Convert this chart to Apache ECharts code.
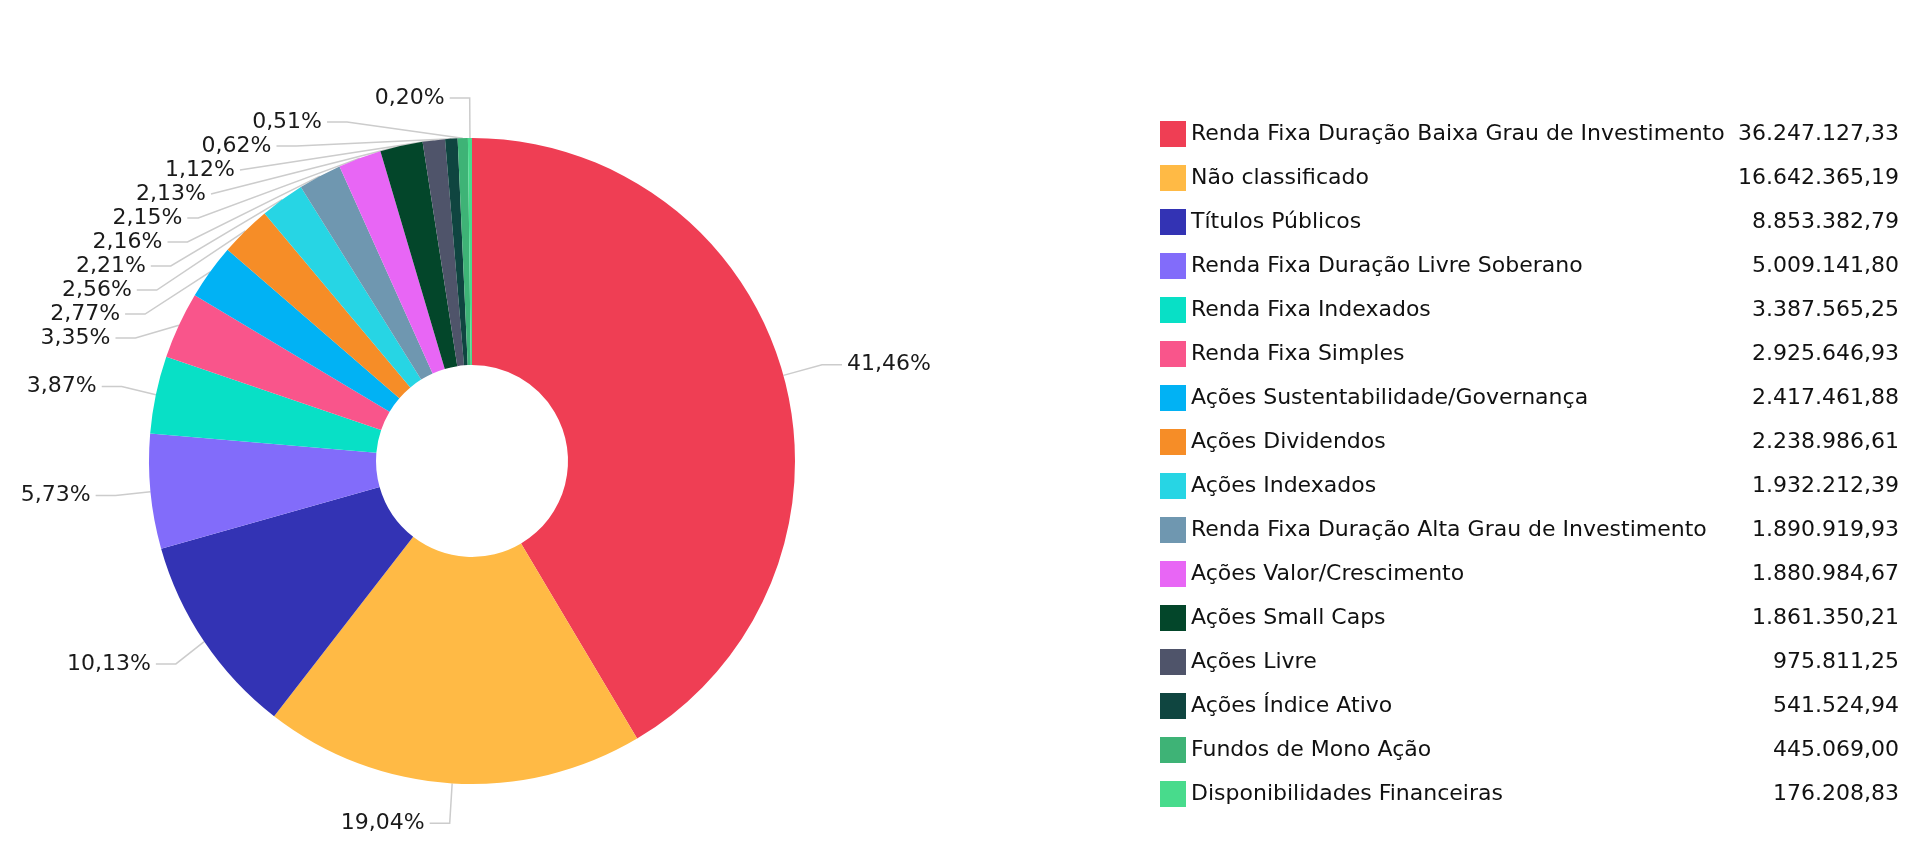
<!DOCTYPE html>
<html>
<head>
<meta charset="utf-8">
<script src="https://cdn.jsdelivr.net/npm/echarts@6/dist/echarts.min.js"></script>
<style>
  html, body { margin: 0; padding: 0; background: #fff; }
  #host { width: 1924px; height: 841px; }
</style>
</head>
<body>
<div id="host"></div>
<script>
const categories = [
  "Renda Fixa Duração Baixa Grau de Investimento",
  "Não classificado",
  "Títulos Públicos",
  "Renda Fixa Duração Livre Soberano",
  "Renda Fixa Indexados",
  "Renda Fixa Simples",
  "Ações Sustentabilidade/Governança",
  "Ações Dividendos",
  "Ações Indexados",
  "Renda Fixa Duração Alta Grau de Investimento",
  "Ações Valor/Crescimento",
  "Ações Small Caps",
  "Ações Livre",
  "Ações Índice Ativo",
  "Fundos de Mono Ação",
  "Disponibilidades Financeiras",
];
const values = [
  36247127.33, 16642365.19, 8853382.79, 5009141.80, 3387565.25, 2925646.93,
  2417461.88, 2238986.61, 1932212.39, 1890919.93, 1880984.67, 1861350.21,
  975811.25, 541524.94, 445069.00, 176208.83,
];
const colors = [
  "#ef3e54", "#ffba45", "#3333b4", "#826cfa", "#08e0c6", "#f9558b",
  "#01b2f4", "#f68d27", "#27d5e4", "#6f97b0", "#e866f5", "#03462a",
  "#4f546a", "#0f4540", "#3eb376", "#48db8c",
];

const total = values.reduce((a, b) => a + b, 0);

// 36247127.33 -> "36.247.127,33"
function fmtBR(v) {
  const [int, dec] = v.toFixed(2).split(".");
  return int.replace(/\B(?=(\d{3})+(?!\d))/g, ".") + "," + dec;
}

const FONT = "DejaVu Sans";
const chart = echarts.init(document.getElementById("host"));
chart.setOption({
  backgroundColor: "#fff",
  color: colors,
  animation: false,
  legend: {
    orient: "vertical",
    left: 1155,
    top: 116,
    icon: "rect",
    itemWidth: 26,
    itemHeight: 26,
    itemGap: 18,
    selectedMode: false,
    formatter: (name) => {
      const i = categories.indexOf(name);
      return `{n|${name}}{v|${fmtBR(values[i])}}`;
    },
    textStyle: {
      color: "#111",
      fontFamily: FONT,
      fontSize: 22,
      rich: {
        n: { width: 540, fontFamily: FONT, fontSize: 22, color: "#111" },
        v: { width: 168, align: "right", fontFamily: FONT, fontSize: 22, color: "#111" },
      },
    },
  },
  series: [
    {
      type: "pie",
      center: [472, 461],
      radius: [96, 323],
      startAngle: 90,
      clockwise: true,
      data: categories.map((c, i) => ({ name: c, value: values[i] })),
      label: {
        show: true,
        color: "#1a1a1a",
        fontFamily: FONT,
        fontSize: 22,
        formatter: (p) => ((p.value / total) * 100).toFixed(2).replace(".", ",") + "%",
      },
      labelLine: {
        show: true,
        length: 40,
        length2: 20,
        lineStyle: { color: "#cccccc", width: 1.5 },
      },
      emphasis: { disabled: true },
    },
  ],
});
</script>
</body>
</html>
